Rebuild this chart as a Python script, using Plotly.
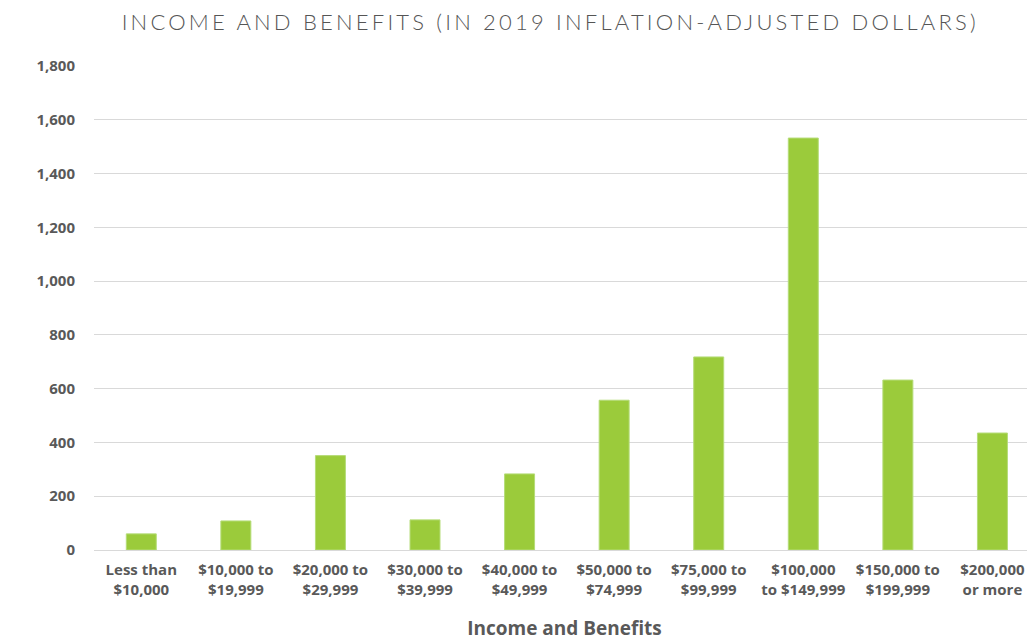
import plotly.graph_objects as go

categories = [
    "Less than<br>$10,000", "$10,000 to<br>$19,999", "$20,000 to<br>$29,999",
    "$30,000 to<br>$39,999", "$40,000 to<br>$49,999", "$50,000 to<br>$74,999",
    "$75,000 to<br>$99,999", "$100,000<br>to $149,999", "$150,000 to<br>$199,999",
    "$200,000<br>or more",
]
values = [60, 108, 351, 112, 283, 557, 718, 1532, 632, 435]
y_ticks = [0, 200, 400, 600, 800, 1000, 1200, 1400, 1600, 1800]

grey = "#595959"

fig = go.Figure(go.Bar(
    x=categories, y=values,
    marker=dict(color="#9BCB3B", line=dict(color="#B5DC78", width=1)),
))

# the page body has an 8px margin: compensate so the plot lands where the reference has it
fig.update_layout(
    width=1027, height=633,
    margin=dict(l=86, r=0, t=58, b=91),
    paper_bgcolor="white", plot_bgcolor="white",
    bargap=0.683,
    showlegend=False,
    title=dict(
        text="INCOME AND BENEFITS (IN 2019 INFLATION-ADJUSTED DOLLARS)",
        x=0.528, xanchor="center", y=1 - 14 / 633, yanchor="middle",
        font=dict(family="Lato", size=22, color="#555555", weight=300),
    ),
    xaxis=dict(
        range=[-0.5, 9.45],
        tickfont=dict(family="Open Sans", size=15, color=grey, weight="bold"),
        showgrid=False, showline=True, linecolor="#d9d9d9", linewidth=1,
        ticks="", ticklabelstandoff=6,
        title=dict(text="Income and Benefits", standoff=26,
                   font=dict(family="Open Sans", size=19, color=grey, weight="bold")),
    ),
    yaxis=dict(
        range=[0, 1800], tickvals=y_ticks, tickformat=",",
        tickfont=dict(family="Open Sans", size=15, color=grey, weight="bold"),
        showgrid=True, gridcolor="#d9d9d9", gridwidth=1,
        zeroline=False, ticks="", ticklabelstandoff=18,
    ),
)

fig.write_html(
    "out.html",
    post_script="var t=document.querySelector('.gtitle'); if(t){t.style.letterSpacing='3.2px';}",
)
